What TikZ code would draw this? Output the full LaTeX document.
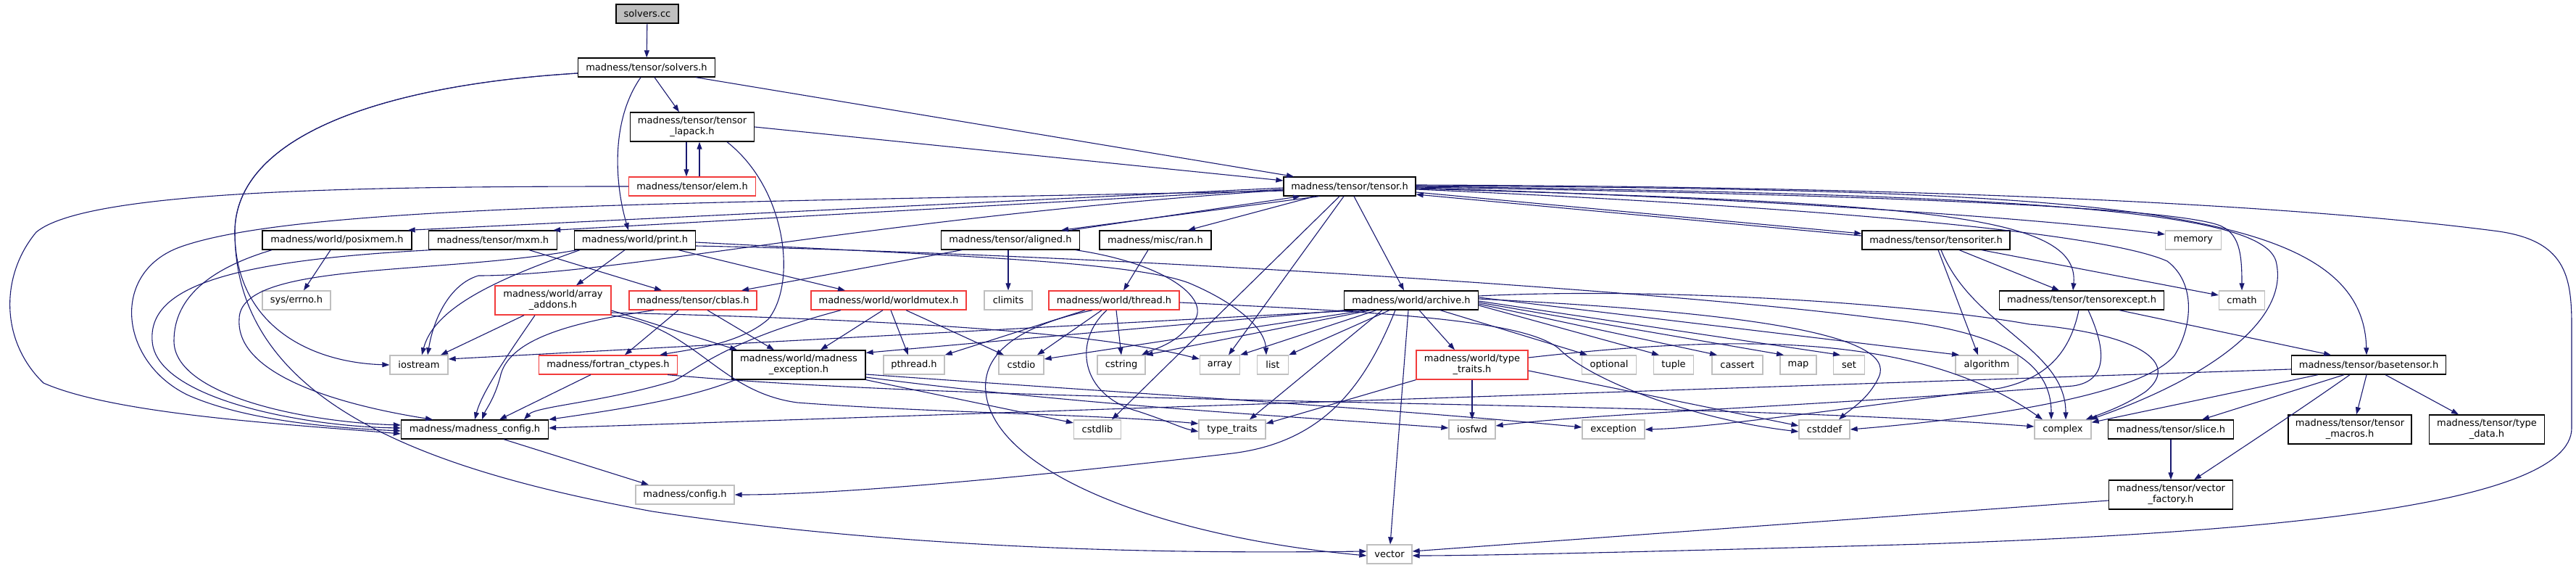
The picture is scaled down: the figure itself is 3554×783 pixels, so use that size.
\documentclass[tikz,border=0pt]{standalone}
\usepackage{fontspec}
\setmainfont{DejaVu Sans}
\usetikzlibrary{arrows.meta}
\definecolor{midnight}{HTML}{191970}
\definecolor{hdrred}{HTML}{F23B3B}
\definecolor{hdrgray}{HTML}{BFBFBF}

\begin{document}
\begin{tikzpicture}[x=1pt, y=-1pt,
  hdr/.style={draw=black, fill=white, line width=1.3pt, inner sep=0pt,
              minimum height=26pt, align=center, font=\fontsize{13}{15}\selectfont},
  tall/.style={minimum height=40pt},
  redhdr/.style={hdr, draw=hdrred},
  syshdr/.style={hdr, draw=hdrgray},
  roothdr/.style={hdr, fill=hdrgray},
  dep/.style={draw=midnight, line width=1.1pt, -{Triangle[length=10pt,width=7pt]}},
]
\useasboundingbox (0,0) rectangle (3554,783);

% headers
\node[roothdr, minimum width=86pt] (cc) at (893,19) {solvers.cc};
\node[hdr, minimum width=189pt] (solvh) at (892,93) {madness/tensor/solvers.h};
\node[hdr, tall, minimum width=171pt] (lapack) at (955,175) {madness/tensor/tensor\\\_lapack.h};
\node[redhdr, minimum width=175pt] (elem) at (955,257) {madness/tensor/elem.h};
\node[hdr, minimum width=182pt] (tensor) at (1862,257) {madness/tensor/tensor.h};
\node[hdr, minimum width=206pt] (posix) at (465,331) {madness/world/posixmem.h};
\node[hdr, minimum width=177pt] (mxm) at (680,331) {madness/tensor/mxm.h};
\node[hdr, minimum width=167pt] (print) at (876,331) {madness/world/print.h};
\node[hdr, minimum width=191pt] (aligned) at (1394,331) {madness/tensor/aligned.h};
\node[hdr, minimum width=154pt] (ran) at (1594,331) {madness/misc/ran.h};
\node[hdr, minimum width=204pt] (titer) at (2671,331) {madness/tensor/tensoriter.h};
\node[syshdr, minimum width=77pt] (memory) at (3026,331) {memory};
\node[syshdr, minimum width=94pt] (errno) at (409,414) {sys/errno.h};
\node[redhdr, tall, minimum width=160pt] (addons) at (763,414) {madness/world/array\\\_addons.h};
\node[redhdr, minimum width=176pt] (cblas) at (956,414) {madness/tensor/cblas.h};
\node[redhdr, minimum width=214pt] (mutex) at (1226,414) {madness/world/worldmutex.h};
\node[syshdr, minimum width=66pt] (climits) at (1391,414) {climits};
\node[redhdr, minimum width=180pt] (thread) at (1537,414) {madness/world/thread.h};
\node[hdr, minimum width=185pt] (archive) at (1947,414) {madness/world/archive.h};
\node[hdr, minimum width=227pt] (texcept) at (2872,414) {madness/tensor/tensorexcept.h};
\node[syshdr, minimum width=63pt] (cmath) at (3093,414) {cmath};
\node[syshdr, minimum width=80pt] (iostream) at (578,503) {iostream};
\node[redhdr, minimum width=191pt] (fortran) at (839,503) {madness/fortran\_ctypes.h};
\node[hdr, tall, minimum width=184pt] (mexcept) at (1102,503) {madness/world/madness\\\_exception.h};
\node[syshdr, minimum width=84pt] (pthread) at (1261,503) {pthread.h};
\node[syshdr, minimum width=62pt] (cstdio) at (1409,503) {cstdio};
\node[syshdr, minimum width=66pt] (cstring) at (1547,503) {cstring};
\node[syshdr, minimum width=55pt] (array) at (1683,503) {array};
\node[syshdr, minimum width=43pt] (list) at (1756,503) {list};
\node[redhdr, tall, minimum width=154pt] (wtraits) at (2031,503) {madness/world/type\\\_traits.h};
\node[syshdr, minimum width=75pt] (optional) at (2220,503) {optional};
\node[syshdr, minimum width=55pt] (tuple) at (2309,503) {tuple};
\node[syshdr, minimum width=70pt] (cassert) at (2397,503) {cassert};
\node[syshdr, minimum width=50pt] (map) at (2481,503) {map};
\node[syshdr, minimum width=43pt] (set) at (2551,503) {set};
\node[syshdr, minimum width=86pt] (algorithm) at (2741,503) {algorithm};
\node[hdr, minimum width=213pt] (basetensor) at (3268,503) {madness/tensor/basetensor.h};
\node[hdr, minimum width=203pt] (mconfig) at (655,592) {madness/madness\_config.h};
\node[syshdr, minimum width=65pt] (cstdlib) at (1514,592) {cstdlib};
\node[syshdr, minimum width=92pt] (typetraits) at (1700,592) {type\_traits};
\node[syshdr, minimum width=64pt] (iosfwd) at (2031,592) {iosfwd};
\node[syshdr, minimum width=86pt] (exception) at (2226,592) {exception};
\node[syshdr, minimum width=70pt] (cstddef) at (2517,592) {cstddef};
\node[syshdr, minimum width=78pt] (complex) at (2846,592) {complex};
\node[hdr, minimum width=173pt] (slice) at (2995,592) {madness/tensor/slice.h};
\node[hdr, tall, minimum width=170pt] (tmacros) at (3242,592) {madness/tensor/tensor\\\_macros.h};
\node[hdr, tall, minimum width=159pt] (tdata) at (3431,592) {madness/tensor/type\\\_data.h};
\node[syshdr, minimum width=136pt] (config) at (945,682) {madness/config.h};
\node[hdr, tall, minimum width=171pt] (vfactory) at (2995,682) {madness/tensor/vector\\\_factory.h};
\node[syshdr, minimum width=62pt] (vector) at (1917,764) {vector};

% solvers.cc, solvers.h, tensor_lapack.h, elem.h
\draw[dep] (cc) -- (solvh);
\draw[dep] ([yshift=-8pt]solvh.west) .. controls (520,118) and (324,190) .. (324,320)
  .. controls (324,450) and (430,500) .. (iostream.west);
\draw[dep] ([yshift=-8pt]solvh.west) .. controls (520,118) and (324,190) .. (324,320)
  .. controls (324,560) and (600,650) .. (900,705) .. controls (1300,765) and (1700,762) .. ([yshift=4pt]vector.west);
\draw[dep] ([xshift=-8pt]solvh.south) .. controls (840,170) and (850,260) .. ([xshift=-9pt]print.north);
\draw[dep] ([xshift=11pt]solvh.south) -- ([xshift=-18pt]lapack.north);
\draw[dep] ([xshift=68pt]solvh.south) -- ([xshift=-77pt]tensor.north);
\draw[dep] ([xshift=-8pt]lapack.south) -- ([xshift=-8pt]elem.north);
\draw[dep] ([xshift=10pt]elem.north) -- ([xshift=10pt]lapack.south);
\draw[dep] (lapack.east) -- ([yshift=8pt]tensor.west);
\draw[dep] ([xshift=48pt]lapack.south) .. controls (1085,260) and (1100,390) .. (1060,440)
  .. controls (1020,475) and (950,482) .. ([xshift=-25pt]fortran.north east);
\draw[dep] (elem.west) .. controls (500,257) and (120,262) .. (50,320)
  .. controls (0,380) and (0,470) .. (60,528) .. controls (160,572) and (400,585) .. ([yshift=-6pt]mconfig.west);

% tensor.h
\draw[dep] ([yshift=-6pt]tensor.west) .. controls (1000,280) and (420,280) .. (250,340)
  .. controls (150,375) and (165,500) .. (260,545) .. controls (340,580) and (460,590) .. ([yshift=-2pt]mconfig.west);
\draw[dep] ([yshift=-2pt]tensor.west) -- ([xshift=-6pt]posix.north east);
\draw[dep] ([yshift=-4pt]tensor.west) -- ([xshift=-6pt]mxm.north east);
\draw[dep] ([yshift=-5pt]tensor.west) .. controls (1200,300) and (850,380) .. (660,380)
  .. controls (620,392) and (598,440) .. ([xshift=12pt]iostream.north);
\draw[dep] ([xshift=-42pt]tensor.south) -- ([xshift=70pt]aligned.north);
\draw[dep] ([xshift=83pt]aligned.north) -- ([xshift=-68pt]tensor.south);
\draw[dep] ([xshift=-48pt]tensor.south) -- ([xshift=45pt]ran.north);
\draw[dep] ([xshift=-14pt]tensor.south) -- ([xshift=20pt]cstdlib.north);
\draw[dep] ([xshift=-8pt]tensor.south) -- ([xshift=12pt]array.north);
\draw[dep] ([xshift=6pt]tensor.south) -- ([xshift=-10pt]archive.north);
\draw[dep] ([yshift=-8pt]tensor.east) -- ([yshift=9pt]titer.west);
\draw[dep] ([yshift=6pt]titer.west) -- ([yshift=-11pt]tensor.east);
\draw[dep] ([yshift=-2pt]tensor.east) .. controls (2400,272) and (2800,300) .. ([yshift=8pt]memory.west);
\draw[dep] ([yshift=-3pt]tensor.east) .. controls (2650,280) and (2870,295) .. ([xshift=-12pt]texcept.north);
\draw[dep] ([yshift=-1pt]tensor.east) .. controls (2700,270) and (3000,290) .. (3060,310)
  .. controls (3090,320) and (3093,350) .. (cmath.north);
\draw[dep] (tensor.east) .. controls (2800,268) and (3120,290) .. (3140,360)
  .. controls (3160,440) and (3050,520) .. ([xshift=-2pt]complex.north east);
\draw[dep] ([yshift=-4pt]tensor.east) .. controls (2500,285) and (2900,320) .. (2990,360)
  .. controls (3030,390) and (3025,450) .. (3000,490) .. controls (2950,550) and (2700,580) .. (cstddef.east);
\draw[dep] ([yshift=1pt]tensor.east) .. controls (2900,262) and (3260,280) .. ([xshift=-3pt]basetensor.north);
\draw[dep] ([yshift=2pt]tensor.east) .. controls (2900,258) and (3300,300) .. (3440,318)
  .. controls (3540,330) and (3548,380) .. (3548,450) -- (3548,590)
  .. controls (3548,700) and (3100,735) .. (2654,750) .. controls (2300,760) and (2050,766) .. ([yshift=-2pt]vector.east);

% second row
\draw[dep] ([xshift=-9pt]posix.south) -- ([xshift=10pt]errno.north);
\draw[dep] ([xshift=-90pt]posix.south) .. controls (290,370) and (240,410) .. (240,470)
  .. controls (240,545) and (420,582) .. ([yshift=6pt]mconfig.west);
\draw[dep] ([xshift=50pt]mxm.south) -- ([xshift=-43pt]cblas.north);
\draw[dep] ([xshift=-85pt]mxm.south) .. controls (300,360) and (205,400) .. (210,470)
  .. controls (215,550) and (420,588) .. ([yshift=2pt]mconfig.west);
\draw[dep] ([xshift=-76pt]print.south) .. controls (700,380) and (600,420) .. ([xshift=4pt]iostream.north);
\draw[dep] ([xshift=-14pt]print.south) -- ([xshift=32pt]addons.north);
\draw[dep] ([xshift=60pt]print.south) -- ([xshift=-60pt]mutex.north);
\draw[dep] ([xshift=-80pt]print.south) .. controls (600,380) and (330,360) .. (330,440)
  .. controls (325,520) and (480,560) .. ([xshift=-58pt]mconfig.north);
\draw[dep] ([yshift=-3pt]print.east) .. controls (1300,352) and (1560,360) .. (1640,390)
  .. controls (1700,415) and (1745,450) .. ([xshift=-9pt]list.north);
\draw[dep] ([yshift=-8pt]print.east) .. controls (1500,350) and (2300,400) .. (2600,440)
  .. controls (2800,460) and (2830,520) .. ([xshift=-16pt]complex.north);
\draw[dep] ([xshift=-67pt]aligned.south) -- ([xshift=67pt]cblas.north);
\draw[dep] ([xshift=-3pt]aligned.south) -- (climits.north);
\draw[dep] ([xshift=90pt]aligned.south) .. controls (1620,365) and (1680,420) .. (1640,450)
  .. controls (1620,475) and (1590,482) .. ([xshift=28pt]cstring.north);
\draw[dep] ([xshift=-10pt]ran.south) -- ([xshift=13pt]thread.north);
\draw[dep] ([xshift=32pt]titer.south) -- ([xshift=-31pt]texcept.north);
\draw[dep] ([xshift=63pt]titer.south) -- ([yshift=7pt]cmath.west);
\draw[dep] ([xshift=3pt]titer.south) -- ([xshift=-12pt]algorithm.north);
\draw[dep] ([xshift=7pt]titer.south) .. controls (2720,450) and (2850,480) .. ([xshift=4pt]complex.north);

% third row
\draw[dep] ([xshift=-40pt]addons.south) -- ([xshift=30pt]iostream.north);
\draw[dep] ([xshift=-25pt]addons.south) .. controls (700,490) and (665,540) .. (mconfig.north);
\draw[dep] ([yshift=-14pt]addons.east) -- ([xshift=-85pt]mexcept.north);
\draw[dep] ([yshift=-17pt]addons.east) .. controls (1200,440) and (1500,455) .. ([yshift=8pt]array.west);
\draw[dep] (addons.south east) .. controls (960,450) and (990,540) .. (1100,555)
  .. controls (1300,570) and (1500,570) .. ([yshift=8pt]typetraits.west);
\draw[dep] ([xshift=-20pt]cblas.south) -- ([xshift=23pt]fortran.north);
\draw[dep] ([xshift=20pt]cblas.south) -- ([xshift=-34pt]mexcept.north);
\draw[dep] ([xshift=-54pt]cblas.south) .. controls (780,445) and (700,470) .. (690,520)
  .. controls (682,550) and (670,565) .. ([xshift=10pt]mconfig.north);
\draw[dep] ([xshift=-8pt]mutex.south) -- ([xshift=30pt]mexcept.north);
\draw[dep] ([xshift=3pt]mutex.south) -- ([xshift=-8pt]pthread.north);
\draw[dep] ([xshift=24pt]mutex.south) -- ([xshift=-24pt]cstdio.north);
\draw[dep] ([xshift=-66pt]mutex.south) .. controls (1000,470) and (960,510) .. (930,525)
  .. controls (830,555) and (740,560) .. ([xshift=68pt]mconfig.north);
\draw[dep] ([xshift=-40pt]thread.south) -- (pthread.north east);
\draw[dep] ([xshift=-17pt]thread.south) -- ([xshift=22pt]cstdio.north);
\draw[dep] ([xshift=3pt]thread.south) -- (cstring.north);
\draw[dep] ([xshift=-10pt]thread.south) .. controls (1480,470) and (1490,545) .. (1570,567)
  .. controls (1610,580) and (1630,590) .. ([yshift=-3pt]typetraits.west);
\draw[dep] ([xshift=-30pt]thread.south) .. controls (1400,450) and (1355,490) .. (1360,540)
  .. controls (1370,650) and (1600,740) .. ([yshift=-2pt]vector.west);
\draw[dep] ([yshift=-3pt]thread.east) .. controls (1900,430) and (2100,440) .. (2150,480)
  .. controls (2200,530) and (2350,580) .. ([yshift=-3pt]cstddef.west);

% archive.h
\draw[dep] ([xshift=-70pt]archive.south) -- ([yshift=8pt]iostream.east);
\draw[dep] (archive.south west) -- ([yshift=-4pt]mexcept.north east);
\draw[dep] ([xshift=-62pt]archive.south) -- ([yshift=8pt]cstdio.east);
\draw[dep] ([xshift=-56pt]archive.south) -- (cstring.north east);
\draw[dep] ([xshift=-48pt]archive.south) -- (array.north east);
\draw[dep] ([xshift=-30pt]archive.south) -- (list.north east);
\draw[dep] ([xshift=-40pt]archive.south) -- ([xshift=24pt]typetraits.north);
\draw[dep] ([xshift=11pt]archive.south) -- ([xshift=-24pt]wtraits.north);
\draw[dep] ([xshift=-4pt]archive.south) -- ([xshift=1pt]vector.north);
\draw[dep] ([xshift=-22pt]archive.south) .. controls (1880,540) and (1820,610) .. (1700,625)
  .. controls (1400,660) and (1150,682) .. (config.east);
\draw[dep] ([xshift=40pt]archive.south) -- ([xshift=-30pt]optional.north);
\draw[dep] ([yshift=-7pt]archive.east) -- ([xshift=-20pt]tuple.north);
\draw[dep] ([yshift=-5pt]archive.east) -- ([xshift=-28pt]cassert.north);
\draw[dep] ([yshift=-3pt]archive.east) -- ([xshift=-20pt]map.north);
\draw[dep] ([yshift=-1pt]archive.east) -- ([xshift=-12pt]set.north);
\draw[dep] ([yshift=2pt]archive.east) .. controls (2400,430) and (2620,460) .. (2592,520)
  .. controls (2578,550) and (2552,565) .. ([xshift=20pt]cstddef.north);
\draw[dep] ([yshift=4pt]archive.east) -- ([xshift=-38pt]algorithm.north);
\draw[dep] ([yshift=6pt]archive.east) .. controls (2300,395) and (2650,420) .. (2800,447)
  .. controls (2950,460) and (3010,500) .. (2960,540) .. controls (2930,560) and (2900,570) .. ([xshift=-8pt]complex.north east);

% tensorexcept.h, basetensor.h
\draw[dep] ([xshift=52pt]texcept.south) -- ([xshift=-52pt]basetensor.north);
\draw[dep] ([xshift=9pt]texcept.south) .. controls (2905,480) and (2910,525) .. (2860,532)
  .. controls (2500,560) and (2200,570) .. ([yshift=5pt]iosfwd.east);
\draw[dep] ([xshift=-4pt]texcept.south) .. controls (2855,490) and (2820,522) .. (2760,535)
  .. controls (2500,570) and (2350,590) .. (exception.east);
\draw[dep] ([yshift=-6pt]basetensor.west) -- ([yshift=2pt]mconfig.east);
\draw[dep] ([xshift=-70pt]basetensor.south) -- ([yshift=-4pt]complex.north east);
\draw[dep] ([xshift=-34pt]basetensor.south) -- ([xshift=43pt]slice.north);
\draw[dep] ([xshift=-26pt]basetensor.south) .. controls (3180,560) and (3120,600) .. ([xshift=32pt]vfactory.north);
\draw[dep] ([xshift=-3pt]basetensor.south) -- ([xshift=9pt]tmacros.north);
\draw[dep] ([xshift=23pt]basetensor.south) -- ([xshift=-39pt]tdata.north);

% lower rows
\draw[dep] ([xshift=-24pt]fortran.south) -- ([xshift=34pt]mconfig.north);
\draw[dep] ([xshift=-14pt]fortran.south east) .. controls (1400,560) and (2300,550) .. ([yshift=4pt]complex.west);
\draw[dep] ([xshift=5pt]mexcept.south west) .. controls (950,550) and (850,565) .. (mconfig.north east);
\draw[dep] (mexcept.south east) -- ([yshift=9pt]cstdlib.west);
\draw[dep] ([yshift=-13pt]mexcept.east) .. controls (1600,545) and (1900,562) .. ([yshift=3pt]exception.west);
\draw[dep] ([yshift=-17pt]mexcept.east) .. controls (1500,560) and (1800,575) .. ([yshift=2pt]iosfwd.west);
\draw[dep] (wtraits.south) -- (iosfwd.north);
\draw[dep] (wtraits.south west) -- ([yshift=8pt]typetraits.east);
\draw[dep] ([yshift=-8pt]wtraits.east) -- ([yshift=5pt]cstddef.west);
\draw[dep] ([yshift=10pt]wtraits.east) .. controls (2400,460) and (2650,460) .. ([xshift=-28pt]complex.north);
\draw[dep] (slice) -- (vfactory);
\draw[dep] ([yshift=-8pt]vfactory.west) -- ([yshift=4pt]vector.east);
\draw[dep] ([xshift=40pt]mconfig.south) -- ([xshift=-50pt]config.north);
\end{tikzpicture}
\end{document}
